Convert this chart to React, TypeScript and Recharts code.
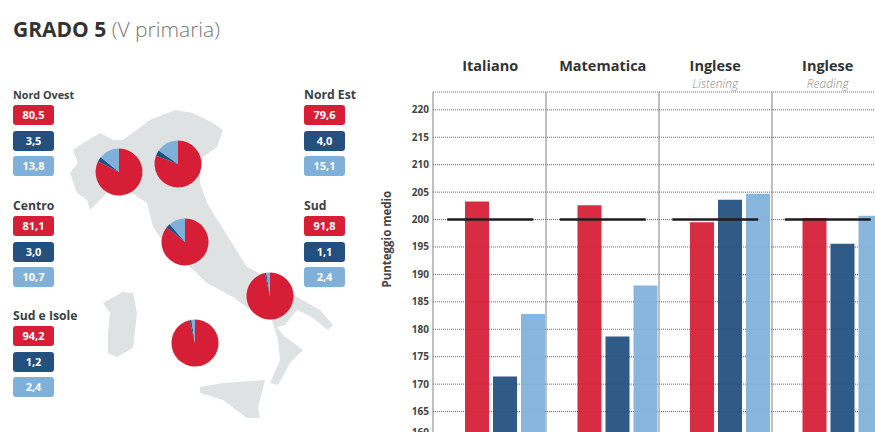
import React from 'react';
import { Bar, CartesianGrid, Cell, ComposedChart, Line, Pie, PieChart, XAxis, YAxis } from 'recharts';

const RED = '#d61f36';
const DARK = '#23507f';
const LIGHT = '#7fb0da';
const FONT = '"Open Sans", sans-serif';

// bar chart
const subjects = ['Italiano', 'Matematica', 'Inglese', 'Inglese'];
const subtitles = ['', '', 'Listening', 'Reading'];
const redScores = [203.3, 202.6, 199.5, 200.3];
const darkScores = [171.4, 178.7, 203.6, 195.6];
const lightScores = [182.8, 188, 204.7, 200.7];
const nationalMean = [200, 200, 200, 200];
const yTicks = [160, 165, 170, 175, 180, 185, 190, 195, 200, 205, 210, 215, 220];

const barData = subjects.map((s, i) => ({
  id: i,
  subject: s,
  red: redScores[i],
  dark: darkScores[i],
  light: lightScores[i],
  mean: nationalMean[i],
}));

// regions
const regions = ['Nord Ovest', 'Nord Est', 'Centro', 'Sud', 'Sud e Isole'];
const redShare = [80.5, 79.6, 81.1, 91.8, 94.2];
const darkShare = [3.5, 4.0, 3.0, 1.1, 1.2];
const lightShare = [13.8, 15.1, 10.7, 2.4, 2.4];

const pieCenters = [[119, 172], [178, 164], [185, 242], [270, 296], [195, 343]];
const boxSpots = [[13, 88], [304, 88], [13, 199], [304, 199], [13, 309]];
const nameSizes = [10.8, 12.2, 12.2, 12.2, 12.2];

const comma = (v: number) => v.toFixed(1).replace('.', ',');

const SubjectTick = ({ x, y, payload }: any) => (
  <g>
    <text x={x - 15} y={y - 13} textAnchor="middle" fontFamily={FONT} fontSize={14.5} fontWeight={700} fill="#333">
      {subjects[payload.value]}
    </text>
    <text x={x - 15} y={y + 4} textAnchor="middle" fontFamily={FONT} fontSize={12} fontStyle="italic" fontWeight={300} fill="#8c8c8c">
      {subtitles[payload.value]}
    </text>
  </g>
);

// the last label sits a bit closer to 165 in the original
const ScoreTick = ({ x, y, payload }: any) => (
  <text x={x} y={payload.value === 160 ? y - 3 : y + 3.5} textAnchor="end" fontFamily={FONT} fontSize={10} fontWeight={700} fill="#444">
    {payload.value}
  </text>
);

const MeanDash = ({ cx, cy, index }: any) => (
  <line key={index} x1={cx - 58} x2={cx + 28} y1={cy} y2={cy} stroke="#1c1c1c" strokeWidth={2.4} />
);

const Badge = ({ value, color }: { value: number; color: string }) => (
  <div style={{
    width: 41, height: 20, marginBottom: 5.5, borderRadius: 3, background: color, color: '#fff',
    fontSize: 11, fontWeight: 700, lineHeight: '20px', textAlign: 'center',
  }}>
    {comma(value)}
  </div>
);

// rough outline of the peninsula and the islands, just a backdrop
const ItalyMap = () => (
  <svg width={370} height={432} style={{ position: 'absolute', left: 0, top: 0 }}>
    <g fill="#dfe2e3">
      <path d="M73,150 L80,145 L100,133 L113,140 L123,140 L150,120 L175,110 L193,113 L213,123 L223,130 L217,147 L203,157 L200,167 L200,183 L207,203 L230,240 L247,267 L277,283 L297,297 L320,310 L333,325 L328,330 L310,316 L297,310 L285,325 L277,327 L285,337 L290,340 L303,350 L290,363 L278,385 L270,383 L280,360 L278,340 L272,320 L260,317 L233,297 L207,283 L190,267 L167,247 L153,227 L147,203 L127,190 L107,193 L90,210 L87,200 L77,193 L70,173 L78,163 Z" />
      <path d="M200,387 L223,383 L265,380 L258,407 L260,418 L247,418 L223,400 L200,393 Z" />
      <path d="M103,303 L123,292 L133,293 L137,313 L133,348 L117,357 L108,353 L108,333 L110,313 Z" />
    </g>
  </svg>
);

export default function App() {
  return (
    <div style={{ position: 'absolute', left: 0, top: 0, width: 875, height: 432, overflow: 'hidden', background: '#fff', fontFamily: FONT }}>
      <div style={{ position: 'absolute', left: 13, top: 15, fontSize: 21, color: '#333', whiteSpace: 'nowrap' }}>
        <b>GRADO 5</b> <span style={{ color: '#777', fontWeight: 300 }}>(V primaria)</span>
      </div>

      <ItalyMap />

      {regions.map((name, i) => (
        <div key={name} style={{ position: 'absolute', left: boxSpots[i][0], top: boxSpots[i][1] }}>
          <div style={{ fontSize: nameSizes[i], fontWeight: 700, color: '#3a3f45', height: 17, lineHeight: '13px', whiteSpace: 'nowrap' }}>{name}</div>
          <Badge value={redShare[i]} color={RED} />
          <Badge value={darkShare[i]} color={DARK} />
          <Badge value={lightShare[i]} color={LIGHT} />
        </div>
      ))}

      <div style={{ position: 'absolute', left: 0, top: 0 }}>
        <PieChart width={370} height={432} margin={{ top: 0, right: 0, bottom: 0, left: 0 }}>
          {regions.map((name, i) => (
            <Pie
              key={name}
              data={[
                { name: 'red', value: redShare[i] },
                { name: 'dark', value: darkShare[i] },
                { name: 'light', value: lightShare[i] },
              ]}
              dataKey="value"
              cx={pieCenters[i][0]}
              cy={pieCenters[i][1]}
              outerRadius={23.5}
              startAngle={90}
              endAngle={-270}
              stroke="none"
              isAnimationActive={false}
            >
              <Cell fill={RED} />
              <Cell fill={DARK} />
              <Cell fill={LIGHT} />
            </Pie>
          ))}
        </PieChart>
      </div>

      <div style={{ position: 'absolute', left: 370, top: 0 }}>
        <ComposedChart
          width={529}
          height={440}
          data={barData}
          margin={{ top: 42, right: 0, bottom: 1, left: 0 }}
          barSize={24}
          barGap={4}
        >
          <CartesianGrid stroke="#666" strokeDasharray="1 1" vertical={false} />
          <CartesianGrid
            stroke="#808080"
            horizontal={false}
            verticalCoordinatesGenerator={({ offset }: any) => subjects.map((_, i) => offset.left + i * 113)}
          />
          <XAxis
            dataKey="id"
            orientation="top"
            height={50}
            axisLine={false}
            tickLine={false}
            interval={0}
            padding={{ left: 16, right: 0 }}
            tick={<SubjectTick />}
          />
          <YAxis
            width={63}
            domain={[160, 223.25]}
            ticks={yTicks}
            interval={0}
            axisLine={false}
            tickLine={false}
            tickSize={0}
            tickMargin={4}
            tick={<ScoreTick />}
            label={{ value: 'Punteggio medio', angle: -90, position: 'insideLeft', dx: 12, dy: 22, style: { fontSize: 11.5, fontWeight: 700, fontFamily: FONT, fill: '#444' } }}
          />
          <Bar dataKey="red" fill={RED} fillOpacity={0.94} isAnimationActive={false} />
          <Bar dataKey="dark" fill={DARK} fillOpacity={0.94} isAnimationActive={false} />
          <Bar dataKey="light" fill={LIGHT} fillOpacity={0.92} isAnimationActive={false} />
          <Line dataKey="mean" stroke="none" dot={<MeanDash />} activeDot={false} isAnimationActive={false} />
        </ComposedChart>
      </div>
    </div>
  );
}
